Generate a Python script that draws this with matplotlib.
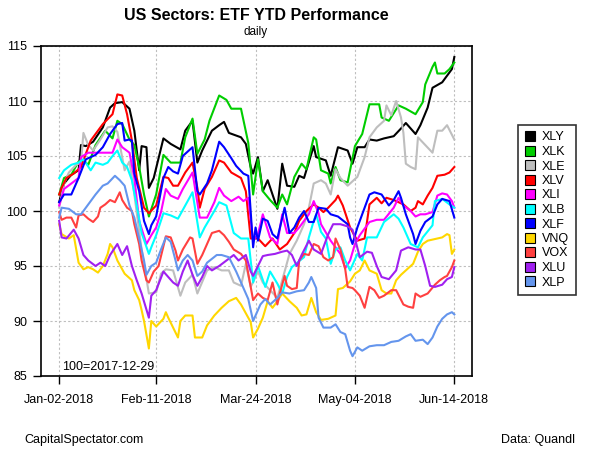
import numpy as np
import matplotlib
matplotlib.use("Agg")
import matplotlib.pyplot as plt
from matplotlib.lines import Line2D

plt.rcParams['font.family'] = ['Liberation Sans', 'DejaVu Sans']

START = np.datetime64('2018-01-02')

# (days after Jan-02-2018, index level), 100 = 2017-12-29
xly = [(0,100.8),(2,102.5),(5,103.3),(8,103.7),(9,106.0),(11,105.9),(14,106.3),(18,107.6),(21,109.4),
       (23,109.8),(26,109.9),(29,109.3),(31,107.3),(33,103.7),(34,105.9),(36,105.8),(37,102.1),(39,103.0),
       (43,106.6),(46,106.1),(50,105.6),(52,107.3),(55,108.2),(57,104.4),(59,105.5),(63,107.3),(66,107.8),
       (68,108.1),(70,107.1),(75,106.7),(77,106.1),(79,104.0),(80,103.4),(82,104.9),(84,101.8),(86,102.8),
       (90,100.2),(92,104.3),(94,102.3),(97,102.2),(99,103.2),(101,103.0),(105,105.9),(106,104.9),(110,104.6),
       (112,103.2),(115,105.8),(119,105.5),(121,104.3),(123,105.8),(126,105.8),(128,106.5),(131,106.4),
       (134,106.6),(138,106.8),(141,107.5),(143,108.0),(147,107.0),(149,107.8),(152,109.4),(154,111.2),
       (158,111.7),(160,112.3),(162,112.9),(163,114.0)]
xlk = [(0,101.5),(2,103.0),(5,103.3),(8,104.5),(10,104.6),(12,104.2),(15,106.0),(19,107.3),(22,106.6),
       (24,108.2),(26,107.9),(29,106.5),(31,106.0),(33,104.0),(35,101.5),(37,99.5),(40,101.5),(43,105.1),
       (46,104.4),(50,104.4),(52,106.7),(55,108.4),(57,105.2),(60,106.5),(62,108.2),(66,110.5),(69,110.1),
       (71,109.3),(75,109.3),(78,106.2),(80,101.5),(82,104.7),(84,101.8),(87,101.0),(90,100.3),(92,101.5),
       (94,100.6),(97,103.1),(100,104.3),(102,103.8),(105,106.7),(106,106.5),(108,103.7),(111,103.4),
       (112,102.5),(114,104.0),(116,102.8),(119,102.6),(122,105.9),(125,107.0),(128,109.7),(132,109.7),
       (133,108.5),(136,108.2),(138,108.9),(140,109.6),(143,109.3),(147,108.8),(150,109.9),(151,111.5),
       (154,113.1),(155,113.5),(156,112.5),(159,112.5),(161,112.9),(163,113.5)]
xle = [(0,100.3),(2,102.5),(4,103.5),(7,104.2),(9,104.4),(10,107.1),(12,106.0),(14,105.5),(17,106.5),
       (20,107.6),(22,107.7),(24,107.2),(27,103.7),(29,104.5),(31,101.5),(34,96.5),(37,92.5),(40,92.6),
       (42,94.3),(44,94.7),(47,94.6),(50,92.3),(52,93.5),(55,94.2),(57,92.5),(61,94.6),(64,94.9),(67,94.6),
       (70,94.6),(72,93.5),(75,93.2),(77,95.2),(79,93.1),(82,94.5),(84,93.5),(87,92.8),(90,92.1),(93,94.5),
       (95,96.1),(98,97.3),(101,98.8),(103,100.3),(105,102.5),(108,102.8),(110,102.5),(112,101.5),(114,103.8),
       (116,103.0),(119,102.3),(123,103.1),(126,104.9),(128,106.7),(131,107.6),(134,108.2),(135,109.6),
       (137,108.7),(139,110.0),(141,108.5),(142,107.1),(143,104.3),(145,104.0),(147,103.8),(148,106.7),
       (151,106.0),(154,105.3),(156,107.3),(158,107.3),(160,107.8),(163,106.5)]
xlv = [(0,101.5),(1,102.1),(3,103.0),(6,103.4),(9,104.0),(13,106.4),(16,107.3),(18,107.9),(22,108.8),
       (24,110.6),(26,110.5),(28,108.8),(30,106.4),(32,103.0),(35,100.3),(37,99.8),(40,100.5),(43,103.1),
       (45,103.0),(47,102.3),(49,102.3),(52,103.5),(55,104.4),(57,102.1),(58,100.3),(60,102.0),(63,103.1),
       (66,104.6),(68,104.4),(71,103.5),(75,103.0),(77,101.8),(79,97.5),(82,97.5),(85,96.8),(88,97.5),
       (91,96.5),(94,97.0),(97,98.0),(99,99.1),(102,100.0),(105,100.6),(107,100.3),(109,99.9),(111,100.3),
       (114,101.0),(115,101.4),(117,100.5),(120,98.5),(123,97.3),(126,97.5),(128,100.6),(131,101.2),
       (133,100.7),(135,101.2),(138,101.0),(140,100.8),(142,100.6),(145,100.0),(147,100.3),(148,100.9),
       (150,100.6),(152,101.4),(154,102.1),(156,103.2),(159,103.3),(161,103.5),(163,104.0)]
xli = [(0,100.5),(2,102.0),(5,102.5),(8,103.0),(9,104.9),(12,105.3),(15,105.3),(18,105.3),(22,105.3),
       (24,106.5),(26,105.8),(29,105.3),(31,103.0),(33,99.1),(36,97.0),(38,97.8),(40,98.5),(42,99.9),
       (44,102.0),(46,101.4),(49,101.1),(51,102.0),(55,103.5),(58,99.4),(61,99.4),(64,100.8),(66,102.1),
       (68,101.4),(71,100.9),(74,101.3),(76,100.9),(78,101.2),(80,97.3),(82,97.9),(84,99.7),(87,97.6),
       (90,97.0),(92,99.7),(94,98.0),(97,98.0),(99,98.5),(103,99.7),(105,100.9),(107,99.8),(108,98.8),
       (112,97.3),(116,96.1),(118,94.8),(120,95.5),(122,97.0),(124,97.8),(128,99.0),(131,99.2),(134,99.2),
       (138,100.3),(140,101.2),(142,100.5),(145,100.0),(147,99.5),(149,99.7),(151,99.7),(154,99.9),
       (156,101.4),(158,101.6),(160,101.5),(162,100.9),(163,100.3)]
xlb = [(0,103.0),(2,103.7),(5,104.2),(8,104.4),(10,104.7),(13,103.7),(15,104.4),(18,104.2),(20,104.4),
       (22,105.0),(24,105.5),(26,104.4),(28,104.0),(30,102.8),(32,100.5),(34,98.0),(37,96.1),(38,96.7),
       (40,97.8),(43,99.8),(46,99.6),(49,99.3),(52,100.5),(55,101.7),(58,97.6),(60,98.5),(64,100.0),
       (66,100.8),(69,100.5),(72,98.0),(75,97.5),(78,97.5),(80,93.5),(82,95.0),(85,93.1),(87,94.5),(90,93.4),
       (92,92.5),(94,94.0),(96,94.9),(101,95.8),(103,97.6),(105,99.1),(106,99.7),(108,98.1),(110,97.5),
       (112,95.2),(114,96.5),(116,96.7),(118,95.5),(120,94.6),(123,96.1),(125,95.5),(127,97.6),(131,97.6),
       (134,99.0),(138,99.7),(140,99.3),(142,98.5),(145,97.0),(148,96.7),(150,97.6),(154,98.7),(155,100.9),
       (158,101.1),(161,100.6),(163,100.3)]
xlf = [(0,100.8),(2,101.5),(5,101.5),(8,103.0),(11,104.7),(15,105.1),(18,105.8),(21,107.0),(24,107.9),
       (26,108.0),(27,106.4),(29,106.5),(30,106.4),(31,103.4),(33,101.8),(35,99.1),(37,97.9),(38,98.7),
       (40,99.5),(43,103.0),(45,104.0),(47,103.6),(49,103.4),(51,105.0),(55,105.8),(57,101.8),(58,101.5),
       (61,102.5),(63,103.7),(66,106.3),(68,105.8),(71,104.8),(73,104.1),(76,103.4),(78,103.2),(80,96.7),
       (81,98.5),(82,97.3),(84,99.3),(86,99.1),(88,97.9),(90,97.5),(93,100.3),(95,98.0),(97,98.5),(99,99.4),
       (101,100.0),(103,99.0),(105,99.0),(107,100.3),(110,100.2),(112,99.7),(115,99.5),(119,98.8),(120,97.6),
       (121,97.0),(123,98.5),(126,100.3),(128,101.5),(130,101.7),(133,101.5),(136,100.5),(138,101.0),
       (140,101.8),(141,101.2),(143,99.7),(146,97.9),(147,97.0),(149,98.2),(151,99.0),(154,99.5),(156,100.6),
       (158,101.1),(161,100.9),(163,99.4)]
vnq = [(0,98.8),(1,97.9),(4,97.5),(6,97.8),(8,95.3),(10,94.7),(12,94.9),(14,94.7),(16,94.4),(18,95.0),
       (20,96.1),(21,97.0),(22,96.7),(24,95.5),(27,94.3),(30,93.7),(31,92.8),(33,91.9),(34,91.0),(35,90.0),
       (37,87.5),(38,90.0),(40,89.5),(43,90.2),(44,90.8),(45,90.3),(47,89.4),(49,88.5),(50,90.0),(52,90.5),
       (55,90.5),(56,88.5),(59,88.5),(61,89.6),(64,90.5),(67,91.2),(70,91.8),(73,92.1),(75,91.5),(79,89.9),
       (80,88.5),(82,89.3),(84,90.3),(86,91.8),(88,91.2),(90,91.8),(92,92.5),(95,91.8),(98,91.2),(100,90.5),
       (102,90.6),(104,92.1),(106,90.8),(108,90.1),(111,90.2),(114,90.5),(115,92.9),(117,93.0),(120,93.6),
       (122,94.3),(124,94.6),(126,95.5),(128,94.6),(131,94.3),(133,92.8),(135,92.5),(137,92.5),(139,93.7),
       (141,94.2),(144,94.8),(146,95.2),(148,96.3),(150,97.0),(152,97.3),(154,97.4),(156,97.5),(158,97.6),
       (160,97.9),(161,97.8),(162,96.1),(163,96.5)]
vox = [(0,99.9),(1,99.2),(3,99.4),(5,99.4),(7,98.5),(8,99.6),(10,99.7),(12,99.3),(14,99.0),(16,99.5),
       (17,100.3),(19,100.6),(21,101.0),(23,100.8),(25,101.7),(26,101.0),(28,100.3),(30,100.0),(31,98.8),
       (33,97.0),(34,95.5),(36,93.7),(37,93.5),(39,94.5),(41,95.0),(44,97.7),(46,97.6),(48,96.4),(49,95.5),
       (51,96.5),(54,97.6),(55,97.5),(57,95.2),(59,96.0),(61,97.0),(63,98.0),(66,98.2),(68,97.8),(70,97.2),
       (72,96.5),(75,96.1),(77,95.5),(79,93.1),(80,91.9),(82,92.5),(84,92.1),(86,91.9),(88,93.5),(90,91.5),
       (91,92.5),(93,94.1),(94,93.2),(96,92.9),(98,93.0),(99,95.5),(101,96.1),(103,96.0),(105,97.0),
       (107,96.8),(109,95.8),(111,95.5),(113,95.8),(114,97.5),(116,96.5),(118,94.7),(119,93.1),(121,93.0),
       (122,92.8),(124,92.3),(126,91.2),(128,93.1),(130,92.8),(132,92.1),(134,92.3),(137,92.8),(139,92.8),
       (142,91.5),(144,91.3),(146,91.2),(147,92.5),(149,92.2),(152,92.5),(155,93.3),(157,93.7),(159,94.0),
       (160,94.1),(162,94.9),(163,95.5)]
xlu = [(0,99.1),(1,97.6),(3,97.5),(6,98.3),(8,97.5),(10,96.0),(12,95.5),(15,95.0),(17,95.3),(19,95.0),
       (21,96.0),(24,97.0),(26,96.0),(28,96.8),(30,95.0),(32,93.7),(34,92.5),(37,90.3),(38,92.3),(40,92.8),
       (43,94.5),(45,94.0),(47,93.5),(49,93.2),(51,94.5),(53,95.5),(55,94.2),(57,93.2),(59,94.0),(61,95.0),
       (63,94.6),(66,95.0),(69,95.5),(72,96.0),(74,95.5),(77,96.0),(79,94.5),(80,94.1),(82,95.0),(84,95.9),
       (86,96.0),(89,96.1),(92,96.3),(94,96.4),(96,96.0),(98,95.0),(100,96.0),(103,97.3),(105,96.5),
       (108,96.1),(111,97.9),(113,98.8),(116,98.8),(119,98.6),(121,98.3),(122,97.5),(124,95.8),(127,96.3),
       (129,96.2),(131,95.0),(133,94.0),(136,93.8),(139,94.6),(141,96.4),(144,96.7),(147,96.5),(149,96.5),
       (151,95.0),(153,93.2),(155,93.1),(158,93.3),(160,93.8),(162,94.0),(163,94.9)]
xlp = [(0,99.4),(1,100.3),(4,100.2),(7,99.7),(9,99.7),(13,100.9),(15,101.5),(18,102.3),(20,102.5),
       (23,103.2),(25,102.8),(27,102.3),(29,100.5),(31,99.4),(33,97.5),(35,95.5),(36,94.2),(38,95.0),
       (40,95.3),(42,96.5),(44,97.6),(46,97.2),(48,95.5),(49,94.6),(51,95.5),(53,96.0),(55,95.5),(57,94.1),
       (59,94.5),(61,95.3),(65,96.0),(67,96.0),(70,95.8),(73,94.5),(76,93.0),(78,92.0),(80,90.0),(83,91.5),
       (85,92.0),(87,91.5),(90,92.1),(92,92.6),(95,92.5),(98,92.7),(101,92.8),(103,93.5),(104,94.0),
       (106,93.0),(107,90.3),(109,89.4),(112,89.4),(114,89.7),(116,89.0),(118,88.8),(120,87.3),(121,86.8),
       (123,87.6),(125,87.3),(128,87.7),(131,87.8),(134,87.8),(137,88.1),(140,88.2),(143,88.6),(145,88.8),
       (147,88.2),(150,88.3),(152,87.9),(154,88.5),(156,89.5),(158,90.2),(160,90.6),(162,90.8),(163,90.6)]

tickers = ['XLY', 'XLK', 'XLE', 'XLV', 'XLI', 'XLB', 'XLF', 'VNQ', 'VOX', 'XLU', 'XLP']
series = [xly, xlk, xle, xlv, xli, xlb, xlf, vnq, vox, xlu, xlp]
colors = ['black', '#00CD00', '#BEBEBE', '#FF0000', '#FF00FF', '#00FFFF',
          '#0000FF', '#FFD700', '#FF4040', '#A020F0', '#6495ED']

tick_dates = ['2018-01-02', '2018-02-11', '2018-03-24', '2018-05-04', '2018-06-14']
tick_labels = ['Jan-02-2018', 'Feb-11-2018', 'Mar-24-2018', 'May-04-2018', 'Jun-14-2018']
y_ticks = [85, 90, 95, 100, 105, 110, 115]

fig = plt.figure(figsize=(6, 4.5), dpi=100)
ax = fig.add_axes([41/600, 1 - 376/450, (472 - 41)/600, (376 - 46)/450])

for data, c, name in zip(series, colors, tickers):
    days, vals = zip(*data)
    dates = START + np.array(days).astype('timedelta64[D]')
    ax.plot(dates, vals, color=c, lw=1.5, label=name)

ax.set_ylim(85, 115)
ax.set_xlim(START - np.timedelta64(180, 'h'), np.datetime64('2018-06-14') + np.timedelta64(175, 'h'))
ax.set_yticks(y_ticks)
ax.set_xticks([np.datetime64(d) for d in tick_dates])
ax.set_xticklabels(tick_labels)
ax.tick_params(axis='both', labelsize=9, length=6, width=1, direction='out', pad=4)
ax.tick_params(axis='x', pad=7)
ax.grid(True, color='#BEBEBE', linestyle=(0, (2, 2)), lw=0.8)
for s in ax.spines.values():
    s.set_linewidth(1.2)

ax.text(0.05, 0.01, '100=2017-12-29', transform=ax.transAxes, fontsize=9, va='bottom')

fig.text(256/600, 1 - 15/450, 'US Sectors: ETF YTD Performance', ha='center', va='center',
         fontsize=11.5, fontweight='bold')
fig.text(256/600, 1 - 32/450, 'daily', ha='center', va='center', fontsize=8.5)
fig.text(24/600, 1 - 440/450, 'CapitalSpectator.com', ha='left', va='center', fontsize=9)
fig.text(575/600, 1 - 440/450, 'Data: Quandl', ha='right', va='center', fontsize=9)

# legend box sits to the right of the plot, like the original
handles = [Line2D([], [], marker='s', linestyle='none', markersize=7, markerfacecolor=c,
                  markeredgecolor='black', markeredgewidth=0.8) for c in colors]
leg = fig.legend(handles, tickers, loc='center', bbox_to_anchor=(547/600, 1 - 210/450),
                 fontsize=9, frameon=True, fancybox=False, edgecolor='black',
                 handlelength=0.9, handletextpad=0.5, labelspacing=0.2, borderpad=0.55,
                 borderaxespad=0)
leg.get_frame().set_linewidth(1.2)

fig.savefig('out.png', dpi=100)
